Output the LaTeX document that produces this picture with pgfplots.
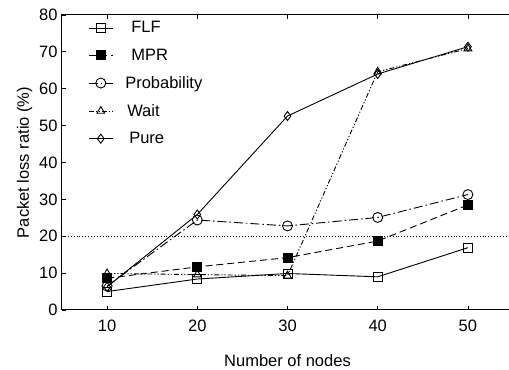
\documentclass[border=0pt]{standalone}
\usepackage{pgfplots}
\pgfplotsset{compat=1.18}
\usepackage{fontspec}
\setmainfont{Liberation Sans}
\newcommand{\lbl}{\fontsize{16.5}{19}\selectfont}
\begin{document}
\begin{tikzpicture}
\begin{axis}[name=ax,
  scale only axis, width=451pt, height=295pt,
  xmin=5, xmax=55, ymin=0, ymax=80,
  xtick={10,20,30,40,50}, ytick={0,10,...,80},
  tick align=inside, major tick length=4pt,
  xtick pos=both, ytick pos=left,
  axis line style={line width=1pt},
  tick style={line width=0.8pt, black},
  /pgf/number format/assume math mode=true,
  tick label style={font=\lbl},
  xticklabel style={yshift=-6pt},
  yticklabel style={xshift=-1pt},
  label style={font=\lbl},
  xlabel={Number of nodes},
  ylabel={Packet loss ratio (\%)},
  xlabel style={yshift=-16pt},
  ylabel style={yshift=0pt},
  every axis plot/.append style={line width=0.9pt, black},
  legend style={draw=none, fill=none, font=\lbl, at={(0.058,0.985)}, anchor=north west,
    row sep=10.5pt, inner sep=0pt, /tikz/every odd column/.append style={column sep=10pt}},
  legend cell align=left,
  legend image code/.code={\draw[mark repeat=2,mark phase=2] plot coordinates {(0pt,0pt)(12pt,0pt)(24pt,0pt)};},
]
\addplot[solid, mark=square, mark size=4.5pt, mark options={solid, fill=white}] coordinates {(10,5.0)(20,8.4)(30,9.9)(40,9.0)(50,16.9)};
\addlegendentry{\hspace{6pt}FLF}
\addplot[dashed, dash pattern=on 7pt off 4pt, mark=square*, mark size=4.5pt, mark options={solid, fill=black}] coordinates {(10,8.6)(20,11.7)(30,14.2)(40,18.7)(50,28.5)};
\addlegendentry{\hspace{6pt}MPR}
\addplot[dash pattern=on 9pt off 3pt on 1.5pt off 3pt, mark=o, mark size=5pt, mark options={solid, fill=white}] coordinates {(10,6.5)(20,24.4)(30,22.8)(40,25.1)(50,31.3)};
\addlegendentry{Probability}
\addplot[dash pattern=on 5pt off 2pt on 1.2pt off 2pt on 1.2pt off 2pt, mark=triangle, mark size=4.5pt, mark options={solid, fill=white}] coordinates {(10,9.9)(20,9.6)(30,9.3)(40,64.6)(50,70.9)};
\addlegendentry{\hspace{2pt}Wait}
\addplot[solid, mark=diamond, mark size=4.5pt, mark options={solid, fill=white}] coordinates {(10,6.3)(20,25.9)(30,52.6)(40,64.0)(50,71.4)};
\addlegendentry{\hspace{4pt}Pure}
\addplot[dotted, line width=1pt, forget plot] coordinates {(5,20)(55,20)};
\end{axis}
\pgfresetboundingbox
\path[use as bounding box] ([xshift=-62pt,yshift=15pt]ax.north west) rectangle ([xshift=-4pt,yshift=-60pt]ax.south east);
\end{tikzpicture}
\end{document}
